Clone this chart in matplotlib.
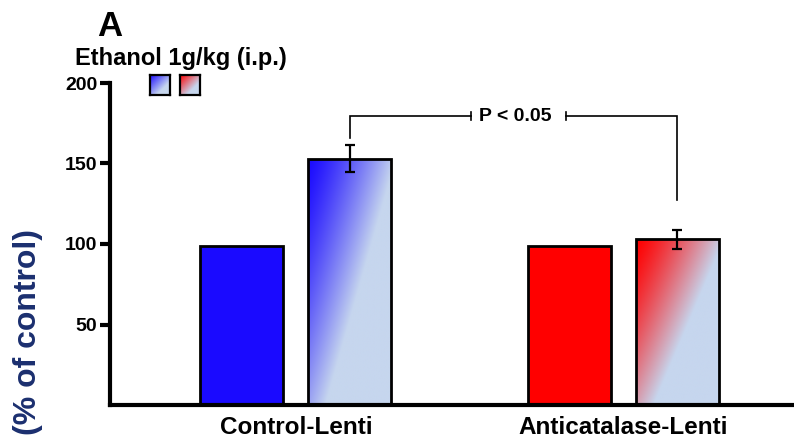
import numpy as np
import matplotlib
matplotlib.use("Agg")
import matplotlib.pyplot as plt
from matplotlib.colors import to_rgb

plt.rcParams['font.family'] = ['Liberation Sans', 'DejaVu Sans']
plt.rcParams['font.weight'] = 'bold'

# Data
groups = ["Control-Lenti", "Anticatalase-Lenti"]
saline = [99, 99]
ethanol = [153, 103]
ethanol_sem = [8.5, 6.0]
y_ticks = [50, 100, 150, 200]
p_text = "P < 0.05"

solid_colors = ["#1a0aff", "#ff0000"]
light = "#c6d6ee"

group_centers = np.array([0.0, 3.03])
offset = 0.5
bar_w = 0.77

fig = plt.figure(figsize=(7.94, 4.42), dpi=100)
ax = fig.add_axes([110 / 794, 1 - 405 / 442, (796 - 110) / 794, (405 - 83) / 442])
ax.set_xlim(-1.72, 4.63)
ax.set_ylim(0, 200)


def gradient_rgb(c0, c1, n=200, ku=0.95, kv=0.8, gamma=1.3):
    """Diagonal gradient: c0 at the top-left corner fading to c1 toward bottom-right."""
    u = np.linspace(0, 1, n)[None, :]
    v = np.linspace(0, 1, n)[:, None]  # 0 at top
    t = np.clip(ku * u + kv * v, 0, 1) ** gamma
    a = np.array(to_rgb(c0))
    b = np.array(to_rgb(c1))
    return a[None, None, :] * (1 - t[..., None]) + b[None, None, :] * t[..., None]


for i, g in enumerate(groups):
    xs = group_centers[i] - offset
    xe = group_centers[i] + offset
    # saline bar: solid colour
    ax.bar(xs, saline[i], width=bar_w, color=solid_colors[i],
           edgecolor="black", linewidth=2.0, zorder=2)
    # ethanol bar: gradient fill clipped to the bar outline
    bars = ax.bar(xe, ethanol[i], width=bar_w, color="none",
                  edgecolor="black", linewidth=2.0, zorder=3)
    img = gradient_rgb(solid_colors[i], light)
    im = ax.imshow(img, extent=(xe - bar_w / 2, xe + bar_w / 2, 0, ethanol[i]),
                   origin="upper", aspect="auto", zorder=2.5, interpolation="bilinear")
    im.set_clip_path(bars[0])
    ax.errorbar(xe, ethanol[i], yerr=ethanol_sem[i], fmt="none", ecolor="black",
                elinewidth=1.6, capsize=3.8, capthick=1.6, zorder=4)

# significance bracket
left_x = group_centers[0] + offset
right_x = group_centers[1] + offset
bracket_y = 179.5
mid = 2.06
gap = 0.44
lw = 1.2
ax.plot([left_x, left_x, mid - gap], [166, bracket_y, bracket_y], color="black", lw=lw,
        solid_joinstyle="miter", zorder=5)
ax.plot([mid + gap, right_x, right_x], [bracket_y, bracket_y, 127.5], color="black", lw=lw,
        solid_joinstyle="miter", zorder=5)
for xe_ in (mid - gap, mid + gap):
    ax.plot([xe_, xe_], [bracket_y - 2.2, bracket_y + 2.2], color="black", lw=lw, zorder=5)
ax.text(mid - 0.03, bracket_y, p_text, ha="center", va="center", fontsize=14,
        fontweight="bold", zorder=6)

# axes styling
for s in ("top", "right"):
    ax.spines[s].set_visible(False)
for s in ("left", "bottom"):
    ax.spines[s].set_linewidth(3.0)
    ax.spines[s].set_capstyle("projecting")
ax.set_yticks(y_ticks)
ax.set_yticklabels([str(v) for v in y_ticks], fontsize=14, fontweight="bold")
ax.tick_params(axis="y", length=7, width=3, pad=2, direction="out")
ax.set_xticks(group_centers)
ax.set_xticklabels(groups, fontsize=17.5, fontweight="bold")
ax.tick_params(axis="x", length=0, pad=8)

# y label
fig.text(28 / 794, 1 - 332 / 442, "(% of control)", rotation=90, ha="center", va="center",
         fontsize=23, fontweight="bold", color="#1b2f6f")

# panel letter and treatment legend
fig.text(97 / 794, 1 - 26 / 442, "A", ha="left", va="center", fontsize=25, fontweight="bold")
fig.text(75 / 794, 1 - 58 / 442, "Ethanol 1g/kg (i.p.)", ha="left", va="center",
         fontsize=17, fontweight="bold")

for x0, c in ((150, solid_colors[0]), (180, solid_colors[1])):
    lax = fig.add_axes([x0 / 794, 1 - 95 / 442, 20 / 794, 20 / 442])
    lt = gradient_rgb(c, light, ku=0.75, kv=0.75, gamma=1.0)
    lax.imshow(lt, extent=(0, 1, 0, 1), origin="upper", aspect="auto", interpolation="bilinear")
    lax.set_xticks([])
    lax.set_yticks([])
    for s in lax.spines.values():
        s.set_linewidth(1.6)

fig.savefig("out.png", dpi=100)
